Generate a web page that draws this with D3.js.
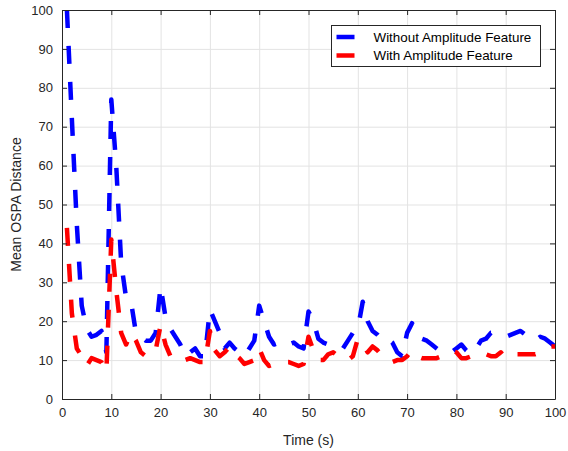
<!DOCTYPE html>
<html>
<head>
<meta charset="utf-8">
<script src="https://cdn.jsdelivr.net/npm/d3@7"></script>
<style>
  body { margin: 0; background: #fff; }
  text { font-family: "Liberation Sans", Arial, sans-serif; }
</style>
</head>
<body>
<div class="chart"></div>
<script>
// time axis in seconds
var times = d3.range(1, 101);

var withoutAmp = [
  100, 72, 45, 24, 18, 16, 16.5, 17.5, 12, 77,
  60, 35, 26, 25, 17, 16, 15, 15, 17, 29,
  21, 18, 16, 14, 11, 12, 13, 11, 11, 23,
  20, 17, 13, 14.5, 13, 12, 11, 13, 15, 24,
  20, 16, 14, 14.5, 13.5, 14, 14.5, 13.5, 13, 22.5,
  20, 15.5, 14.5, 14, 14, 14, 13, 15, 17, 18,
  25, 20, 17.5, 16.5, 15, 15.5, 14.5, 12, 11, 17,
  19.5, 16.5, 15.5, 15, 14, 13, 12, 12, 12, 13,
  14, 12.5, 11.5, 13, 15, 15.5, 17, 17, 16.5, 16,
  16.5, 17, 17.5, 16.5, 15.5, 15, 16, 15.5, 14.5, 13.5
];

var withAmp = [
  44, 22, 13, 11, 8.5, 10.5, 10, 9.5, 7, 41,
  28, 17, 14, 17, 15, 12, 11, 11, 12.5, 19,
  14, 11, 11.5, 10.5, 10, 10.5, 10, 9.5, 9.5, 17.5,
  12.5, 11, 12, 13.5, 11.5, 10.5, 9, 9.5, 10, 13,
  10, 8.5, 9, 9.5, 9.5, 9.5, 9, 8.5, 9, 16,
  12.5, 10, 10, 11.5, 12, 11, 10, 10, 11, 15.5,
  14, 12, 13.5, 12.5, 11, 10, 9.5, 10, 10, 11,
  12.5, 11, 10.5, 10.5, 10.5, 10.5, 11, 12, 12.5, 12,
  10.5, 10.5, 11, 11.5, 12, 11.5, 11, 11, 12, 10.5,
  11, 11.5, 11.5, 11.5, 11.5, 11.5, 12, 13, 13.5, 13.5
];

var seriesNames = ["Without Amplitude Feature", "With Amplitude Feature"];
var seriesColors = ["#0000ff", "#ff0000"];
var xTicks = d3.range(0, 101, 10);
var yTicks = d3.range(0, 101, 10);

var margin = { top: 10, right: 13, bottom: 52, left: 62 };
var svgWidth = 568;
var svgHeight = 451;
var width = svgWidth - margin.left - margin.right;
var height = svgHeight - margin.top - margin.bottom;

var svg = d3.select('.chart')
  .append('svg')
  .attr('width', svgWidth)
  .attr('height', svgHeight);

var canvas = svg.append("g")
  .attr("transform", "translate(" + margin.left + "," + margin.top + ")");

var xScale = d3.scaleLinear().domain([0, 100]).range([0, width]);
var yScale = d3.scaleLinear().domain([0, 100]).range([height, 0]);

// grid
canvas.append("g")
  .attr("class", "grid")
  .attr("transform", "translate(0," + height + ")")
  .call(d3.axisBottom(xScale).tickValues(xTicks).tickSize(-height).tickFormat(""))
  .call(function (g) { g.select(".domain").remove(); })
  .selectAll("line").attr("stroke", "#e3e3e3");

canvas.append("g")
  .attr("class", "grid")
  .call(d3.axisLeft(yScale).tickValues(yTicks).tickSize(-width).tickFormat(""))
  .call(function (g) { g.select(".domain").remove(); })
  .selectAll("line").attr("stroke", "#e3e3e3");

// lines
var line = d3.line()
  .x(function (d, i) { return xScale(times[i]); })
  .y(function (d) { return yScale(d); });

canvas.append("defs").append("clipPath").attr("id", "clip")
  .append("rect").attr("width", width).attr("height", height);

[withoutAmp, withAmp].forEach(function (s, k) {
  canvas.append("path")
    .datum(s)
    .attr("clip-path", "url(#clip)")
    .attr("fill", "none")
    .attr("stroke", seriesColors[k])
    .attr("stroke-width", 4.5)
    .attr("stroke-dasharray", "18,18")
    .attr("stroke-linejoin", "round")
    .attr("d", line);
});

// axes (ticks inward, box on all sides)
function styleAxis(g) {
  g.select(".domain").attr("stroke", "#262626");
  g.selectAll(".tick line").attr("stroke", "#262626");
  g.selectAll("text").attr("fill", "#262626").style("font-size", "13px");
}

canvas.append("g")
  .attr("transform", "translate(0," + height + ")")
  .call(d3.axisBottom(xScale).tickValues(xTicks).tickSizeInner(-5).tickSizeOuter(0).tickPadding(9))
  .call(styleAxis);

canvas.append("g")
  .call(d3.axisLeft(yScale).tickValues(yTicks).tickSizeInner(-5).tickSizeOuter(0).tickPadding(9))
  .call(styleAxis);

canvas.append("g")
  .call(d3.axisTop(xScale).tickValues(xTicks).tickSizeInner(-5).tickSizeOuter(0).tickFormat(""))
  .call(styleAxis);

canvas.append("g")
  .attr("transform", "translate(" + width + ",0)")
  .call(d3.axisRight(yScale).tickValues(yTicks).tickSizeInner(-5).tickSizeOuter(0).tickFormat(""))
  .call(styleAxis);

// axis labels
svg.append("text")
  .attr("x", margin.left + width / 2)
  .attr("y", 445)
  .attr("text-anchor", "middle")
  .attr("fill", "#262626")
  .style("font-size", "14px")
  .text("Time (s)");

svg.append("text")
  .attr("transform", "translate(21," + (margin.top + height / 2) + ") rotate(-90)")
  .attr("text-anchor", "middle")
  .attr("fill", "#262626")
  .style("font-size", "14px")
  .text("Mean OSPA Distance");

// legend
var legend = svg.append("g").attr("transform", "translate(331.5,25.5)");
legend.append("rect")
  .attr("width", 209)
  .attr("height", 41)
  .attr("fill", "#fff")
  .attr("stroke", "#262626");

seriesNames.forEach(function (name, k) {
  var yy = 11.5 + k * 18.5;
  legend.append("line")
    .attr("x1", 5).attr("x2", 23)
    .attr("y1", yy).attr("y2", yy)
    .attr("stroke", seriesColors[k])
    .attr("stroke-width", 4.5);
  legend.append("text")
    .attr("x", 42)
    .attr("y", yy + 4.5)
    .attr("fill", "#000")
    .style("font-size", "13.4px")
    .text(name);
});
</script>
</body>
</html>
